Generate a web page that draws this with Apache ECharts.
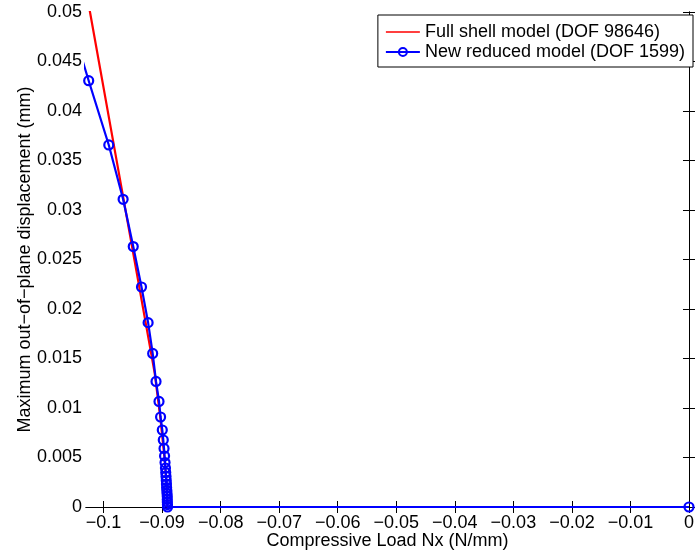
<!DOCTYPE html>
<html>
<head>
<meta charset="utf-8">
<script src="https://cdn.jsdelivr.net/npm/echarts@6/dist/echarts.min.js"></script>
<style>
html,body{margin:0;padding:0;background:#fff;}
#c{width:697px;height:556px;}
</style>
</head>
<body>
<div id="c"></div>
<script>
// Data
var fullShellX = [-0.10353, -0.10232, -0.09671, -0.09126, -0.0903, -0.0896, -0.0892, -0.0891, 0];
var fullShellY = [0.0540, 0.0500, 0.0315, 0.0135, 0.0090, 0.0050, 0.0020, 0.0000, 0];
var reducedX = [-0.1064, -0.10254, -0.09911, -0.09666, -0.09493, -0.09352, -0.09239, -0.09161, -0.09104,
  -0.09053, -0.09026, -0.08997, -0.08980, -0.08967, -0.08958, -0.08950, -0.08943, -0.08938, -0.08933,
  -0.08929, -0.08926, -0.08923, -0.08919, -0.08916, -0.08912, -0.08912, -0.08911, -0.08909, -0.08907, 0];
var reducedY = [0.0506, 0.04306, 0.03657, 0.03108, 0.02631, 0.02222, 0.01862, 0.01551, 0.01268,
  0.01066, 0.00909, 0.00778, 0.00677, 0.00591, 0.00515, 0.00449, 0.00394, 0.00348, 0.00308,
  0.00268, 0.00232, 0.00197, 0.00167, 0.00136, 0.00106, 0.00076, 0.00051, 0.00025, 0.0, 0];
var xTicks = [-0.1, -0.09, -0.08, -0.07, -0.06, -0.05, -0.04, -0.03, -0.02, -0.01, 0];
var seriesNames = ['Full shell model (DOF 98646)', 'New reduced model (DOF 1599)'];

function zip(a, b) { return a.map(function (v, i) { return [v, b[i]]; }); }
var FONT = '"Liberation Sans", Arial, Helvetica, sans-serif';
var FS = 18;
function fmtX(v) {
  var r = +v.toFixed(4);
  if (r === 0) return '0';
  return (r < 0 ? '\u2212' : '') + String(Math.abs(r));
}
function fmtY(v) { return String(+v.toFixed(4)); }

var axisLine = { show: true, lineStyle: { color: '#000', width: 1 } };
var tickIn = { show: true, inside: true, length: 6, lineStyle: { color: '#000', width: 1 } };
var lineIcon = 'path://M0,0L0.01,0Z M0,4.2L34,4.2L34,5.8L0,5.8Z M0,10L0.01,10Z';

var chart = echarts.init(document.getElementById('c'), null, { renderer: 'canvas' });
chart.setOption({
  animation: false,
  backgroundColor: '#fff',
  textStyle: { fontFamily: FONT },
  grid: { left: 86, right: 2, top: 12, bottom: 49, containLabel: false },
  legend: {
    orient: 'vertical',
    right: 4, top: 15,
    backgroundColor: '#fff',
    borderColor: '#000', borderWidth: 1,
    padding: [7, 8, 5, 7],
    itemWidth: 34, itemHeight: 10, itemGap: 0,
    textStyle: { fontSize: FS, lineHeight: 20, color: '#000', fontFamily: FONT },
    data: [{ name: seriesNames[0], icon: lineIcon }, { name: seriesNames[1] }]
  },
  xAxis: [{
    type: 'value', min: -0.103, max: 0, position: 'bottom',
    axisLine: axisLine,
    axisTick: Object.assign({}, tickIn, { customValues: xTicks }),
    axisLabel: { customValues: xTicks, formatter: fmtX, fontSize: FS, color: '#000', margin: 7,
      fontFamily: FONT, alignMaxLabel: 'center', alignMinLabel: 'center' },
    splitLine: { show: false },
    name: 'Compressive Load Nx (N/mm)', nameLocation: 'middle', nameGap: 25, nameMoveOverlap: false,
    nameTextStyle: { fontSize: FS, color: '#000', fontFamily: FONT }
  }, {
    type: 'value', min: -0.103, max: 0, position: 'top',
    axisLine: axisLine,
    axisTick: Object.assign({}, tickIn, { customValues: xTicks }),
    axisLabel: { show: false, customValues: xTicks },
    splitLine: { show: false }
  }],
  yAxis: [{
    type: 'value', min: 0, max: 0.05, interval: 0.005, position: 'left',
    axisLine: axisLine, axisTick: tickIn,
    axisLabel: { formatter: fmtY, fontSize: FS, color: '#000', margin: 4, fontFamily: FONT },
    splitLine: { show: false },
    name: 'Maximum out\u2212of\u2212plane displacement (mm)', nameLocation: 'middle', nameGap: 52,
    nameMoveOverlap: false,
    nameTextStyle: { fontSize: FS, color: '#000', fontFamily: FONT }
  }, {
    type: 'value', min: 0, max: 0.05, interval: 0.005, position: 'right',
    axisLine: axisLine, axisTick: tickIn,
    axisLabel: { show: false },
    splitLine: { show: false }
  }],
  series: [{
    name: seriesNames[0], type: 'line', xAxisIndex: 0, yAxisIndex: 0,
    data: zip(fullShellX, fullShellY),
    showSymbol: false, symbol: 'none', clip: true,
    lineStyle: { color: '#ff0000', width: 2.2 },
    itemStyle: { color: '#ff0000' },
    z: 2
  }, {
    name: seriesNames[1], type: 'line', xAxisIndex: 0, yAxisIndex: 0,
    data: zip(reducedX, reducedY),
    showSymbol: true, symbol: 'circle', symbolSize: 9, clip: true,
    lineStyle: { color: '#0000ff', width: 2.2 },
    itemStyle: { color: 'rgba(255,255,255,0)', borderColor: '#0000ff', borderWidth: 2.2 },
    emphasis: { disabled: true },
    z: 3
  }]
});
</script>
</body>
</html>
